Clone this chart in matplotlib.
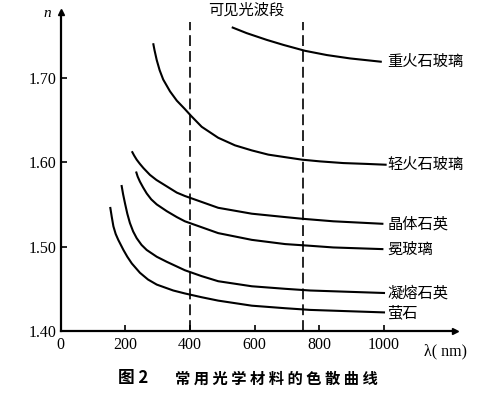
import numpy as np
import matplotlib.pyplot as plt

plt.rcParams['font.family'] = ['Liberation Serif', 'Noto Sans CJK SC']

# 色散数据: 波长 (nm) 与折射率 n
lam_zhonghuoshi = [529, 575, 637, 689, 756, 823, 895, 993]
n_zhonghuoshi = [1.760, 1.753, 1.745, 1.739, 1.732, 1.727, 1.723, 1.719]

lam_qinghuoshi = [286, 290, 297, 306, 317, 338, 359, 384, 403, 436, 487, 539,
                  591, 642, 694, 747, 802, 874, 946, 1008]
n_qinghuoshi = [1.741, 1.733, 1.721, 1.709, 1.698, 1.684, 1.673, 1.663, 1.655, 1.642,
                1.629, 1.620, 1.614, 1.609, 1.606, 1.603, 1.601, 1.599, 1.598, 1.597]

lam_jingti = [220, 227, 235, 245, 256, 276, 296, 317, 359, 384, 487, 591, 694, 747, 843, 998]
n_jingti = [1.613, 1.608, 1.603, 1.598, 1.593, 1.585, 1.579, 1.574, 1.564, 1.560,
            1.546, 1.539, 1.535, 1.533, 1.530, 1.527]

lam_mian = [233, 238, 245, 255, 266, 280, 297, 328, 359, 384, 487, 591, 694, 771, 843, 998]
n_mian = [1.589, 1.583, 1.577, 1.570, 1.563, 1.556, 1.550, 1.542, 1.535, 1.530,
          1.516, 1.508, 1.503, 1.501, 1.499, 1.497]

lam_ningrong = [188, 193, 199, 206, 214, 224, 235, 250, 266, 297, 328, 384, 436, 487,
                591, 694, 771, 1003]
n_ningrong = [1.573, 1.562, 1.551, 1.539, 1.528, 1.518, 1.510, 1.502, 1.496, 1.488,
              1.482, 1.472, 1.465, 1.459, 1.453, 1.450, 1.448, 1.445]

lam_ying = [153, 158, 163, 170, 178, 194, 206, 220, 245, 270, 297, 348, 384, 436, 487,
            591, 694, 771, 1003]
n_ying = [1.547, 1.535, 1.524, 1.515, 1.508, 1.496, 1.488, 1.480, 1.469, 1.461, 1.455,
          1.448, 1.4445, 1.440, 1.436, 1.430, 1.427, 1.425, 1.422]

curvas = [
    (lam_zhonghuoshi, n_zhonghuoshi, "重火石玻璃", 1.719),
    (lam_qinghuoshi, n_qinghuoshi, "轻火石玻璃", 1.597),
    (lam_jingti, n_jingti, "晶体石英", 1.527),
    (lam_mian, n_mian, "冕玻璃", 1.497),
    (lam_ningrong, n_ningrong, "凝熔石英", 1.445),
    (lam_ying, n_ying, "萤石", 1.421),
]

# 可见光波段边界
visible = [400, 750]
xticks = [0, 200, 400, 600, 800, 1000]
yticks = [1.40, 1.50, 1.60, 1.70]

fig = plt.figure(figsize=(5.0, 3.94), dpi=100)
ax = fig.add_axes([0.1214, 0.1599, 0.789, 0.8096])
ax.set_xlim(0, 1220)
ax.set_ylim(1.40, 1.778)

for lam, n, nombre, y_lab in curvas:
    ax.plot(lam, n, color="black", lw=1.5, solid_capstyle="butt", solid_joinstyle="round")
    ax.text(1010, y_lab, nombre, fontsize=11, va="center", ha="left",
            family=["Noto Sans CJK SC"])

for v in visible:
    ax.plot([v, v], [1.40, 1.766], color="black", lw=1.2, ls=(0, (6.5, 3)))

ax.text(573, 1.780, "可见光波段", fontsize=11, ha="center", va="center",
        family=["Noto Sans CJK SC"])

# ejes con flecha
ax.spines["top"].set_visible(False)
ax.spines["right"].set_visible(False)
ax.spines["left"].set_linewidth(1.6)
ax.spines["bottom"].set_linewidth(1.6)
ax.plot(0, 1, "^k", ms=5, transform=ax.transAxes, clip_on=False)
ax.plot(1, 0, ">k", ms=5, transform=ax.transAxes, clip_on=False)

ax.set_xticks(xticks)
ax.set_xticklabels([str(t) for t in xticks])
ax.set_yticks(yticks)
ax.set_yticklabels(["%.2f" % t for t in yticks])
ax.tick_params(direction="in", length=4, width=1.2, labelsize=11.5, pad=3)
ax.tick_params(axis="x", pad=4)

ax.text(-30, 1.776, "n", fontsize=11, style="italic", ha="right", va="center")
ax.text(1125, 1.385, "λ( nm)", fontsize=11.5, ha="left", va="top")

fig.text(0.236, 0.04, "图 2", fontsize=12, fontweight="bold", ha="left", va="center",
         family=["Noto Sans CJK SC"])
fig.text(0.35, 0.04, "常 用 光 学 材 料 的 色 散 曲 线", fontsize=11, fontweight="bold",
         ha="left", va="center", family=["Noto Sans CJK SC"])

fig.savefig("out.png", dpi=100)
